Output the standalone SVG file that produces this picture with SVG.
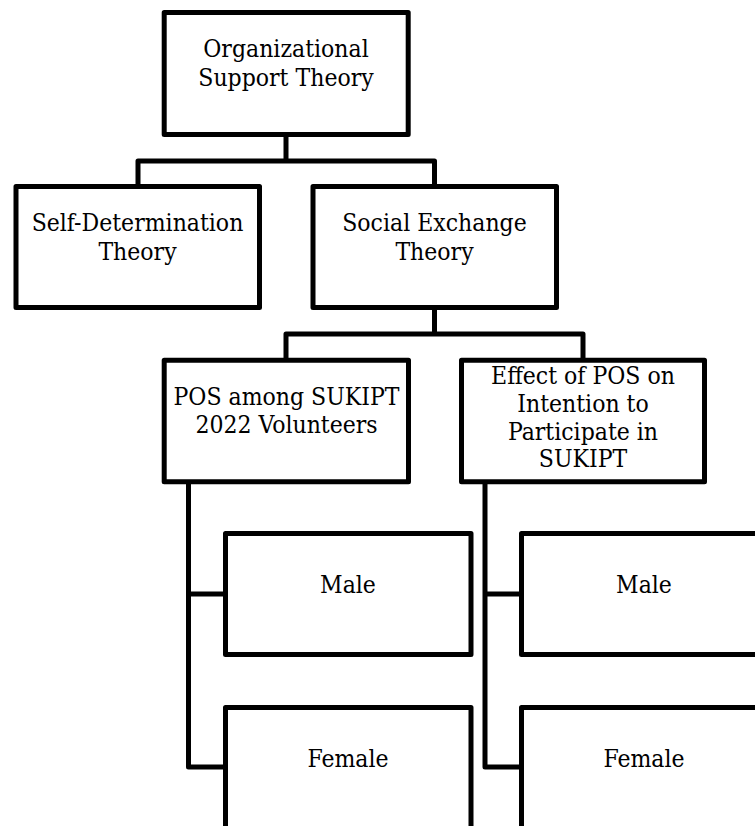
<svg xmlns="http://www.w3.org/2000/svg" width="755" height="826" viewBox="0 0 755 826">
<style>
.box{fill:#fff;stroke:#000;stroke-width:5;stroke-linejoin:round}
.con{fill:none;stroke:#000;stroke-width:5;stroke-linejoin:round;stroke-linecap:square}
text{font-family:"DejaVu Serif Condensed","DejaVu Serif","Liberation Serif",serif;font-stretch:condensed;font-size:24.5px;fill:#000;text-anchor:middle}
</style>
<rect width="755" height="826" fill="#fff"/>
<g id="connectors">
<path class="con" d="M286,134 V161 M138,186 V161 H434.5 V186"/>
<path class="con" d="M434.5,308 V334 M286,360 V334 H583 V360"/>
<path class="con" d="M188.5,482 V767 H225 M188.5,594 H225"/>
<path class="con" d="M485,482 V767 H521 M485,594 H521"/>
</g>
<g id="ost">
<rect class="box" x="164.2" y="12.5" width="244" height="122"/>
<text x="286" y="57.3">Organizational</text>
<text x="286" y="86">Support Theory</text>
</g>
<g id="sdt">
<rect class="box" x="16" y="186.5" width="243.5" height="121"/>
<text x="137.5" y="231">Self-Determination</text>
<text x="137.5" y="259.5">Theory</text>
</g>
<g id="set">
<rect class="box" x="313" y="186.5" width="243.5" height="121"/>
<text x="434.5" y="231">Social Exchange</text>
<text x="434.5" y="259.5">Theory</text>
</g>
<g id="pos">
<rect class="box" x="164.2" y="360.3" width="244.3" height="121.5"/>
<text x="286.5" y="405">POS among SUKIPT</text>
<text x="286.5" y="432.7">2022 Volunteers</text>
</g>
<g id="effect">
<rect class="box" x="461.5" y="360.3" width="243" height="121.5"/>
<text x="583" y="383.5">Effect of POS on</text>
<text x="583" y="411.5">Intention to</text>
<text x="583" y="439.5">Participate in</text>
<text x="583" y="467">SUKIPT</text>
</g>
<g id="male-left">
<rect class="box" x="225.5" y="533.5" width="245.5" height="121"/>
<text x="348" y="593">Male</text>
</g>
<g id="female-left">
<rect class="box" x="225.5" y="707.5" width="245.5" height="200"/>
<text x="348" y="767">Female</text>
</g>
<g id="male-right">
<rect class="box" x="521.5" y="533.5" width="245.5" height="121"/>
<text x="644" y="593">Male</text>
</g>
<g id="female-right">
<rect class="box" x="521.5" y="707.5" width="245.5" height="200"/>
<text x="644" y="767">Female</text>
</g>
</svg>
